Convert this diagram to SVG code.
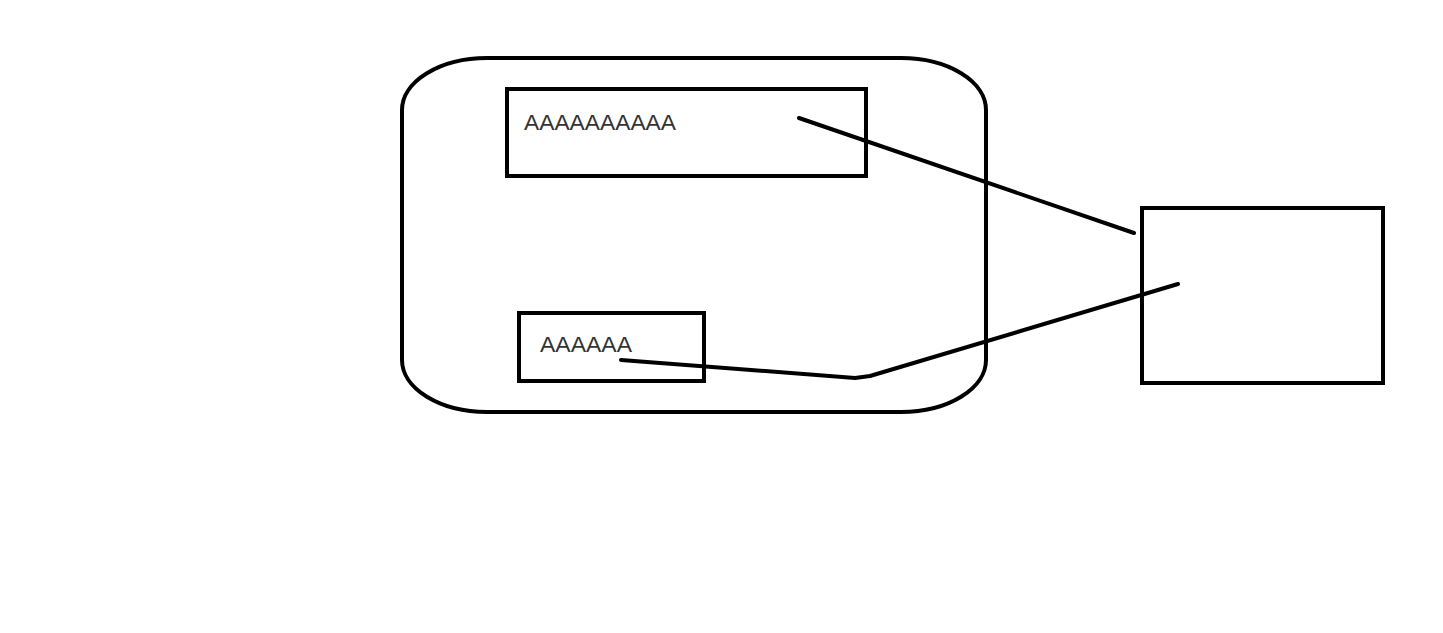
<svg xmlns="http://www.w3.org/2000/svg" width="1443" height="633" viewBox="0 0 1443 633">
<style>
.box{fill:none;stroke:#000;stroke-width:4}
.ln{fill:none;stroke:#000;stroke-width:4;stroke-linecap:round;stroke-linejoin:round}
.lbl{font-family:"Liberation Sans",Arial,sans-serif;font-size:22px;fill:#333}
</style>
<rect width="1443" height="633" fill="#fff"/>
<g id="container"><rect class="box" x="402" y="58" width="584" height="354" rx="85" ry="52"/></g>
<g id="node-a"><rect class="box" x="507" y="89" width="359" height="87"/><text class="lbl" x="524" y="130" textLength="152" lengthAdjust="spacingAndGlyphs">AAAAAAAAAA</text></g>
<g id="node-b"><rect class="box" x="519" y="313" width="185" height="68"/><text class="lbl" x="540" y="352" textLength="92" lengthAdjust="spacingAndGlyphs">AAAAAA</text></g>
<g id="node-c"><rect class="box" x="1142" y="208" width="241" height="175"/></g>
<g id="connectors">
<path class="ln" d="M799 118 L1134 233"/>
<path class="ln" d="M621 360 L855 378 L870 376 L1178 284"/>
</g>
</svg>
